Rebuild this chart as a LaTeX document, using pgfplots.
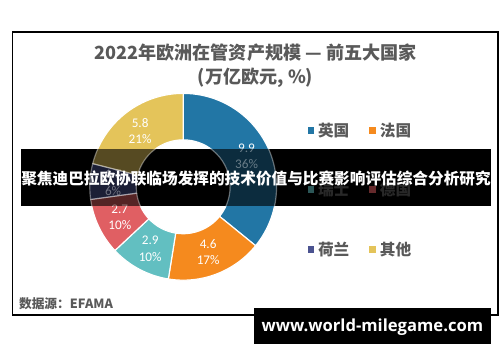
\documentclass[border=0pt]{standalone}
\usepackage{fontspec}
\usepackage{pgfplots}
\usepackage{pgfplotstable}
\pgfplotsset{compat=1.18}
\setmainfont{Carlito}
\newfontfamily\cjk{Noto Sans CJK SC}
\newfontfamily\urlfont{Open Sans}
\definecolor{cUK}{HTML}{2276A5}
\definecolor{cFR}{HTML}{F58A1E}
\definecolor{cCH}{HTML}{62BFC1}
\definecolor{cDE}{HTML}{E05F63}
\definecolor{cNL}{HTML}{4B5390}
\definecolor{cOT}{HTML}{E4C45A}
\definecolor{tgray}{HTML}{595959}

\pgfplotstableread{
country value pct colour
英国 9.9 36 cUK
法国 4.6 17 cFR
瑞士 2.9 10 cCH
德国 2.7 10 cDE
荷兰 1.7 6 cNL
其他 5.8 21 cOT
}\assets

% donut geometry (pt)
\def\cx{176}\def\cy{171}
\def\Ro{95.5}\def\Ri{48}\def\Rm{71.75}

\newcommand\slice[4]{%
  \fill[fill=#3, draw=white, line width=1.2pt, fill opacity=#4, draw opacity=#4]
    (axis cs:\cx,\cy) ++(#1:\Ro pt) arc[start angle=#1, end angle=#2, radius=\Ro pt]
    -- ++(#2:\Ri pt-\Ro pt) arc[start angle=#2, end angle=#1, radius=\Ri pt] -- cycle;}
\newcommand\lbl[4]{%
  \path (axis cs:\cx,\cy) ++(#1:\Rm pt) node[text=white, text opacity=#4, align=center,
    font=\fontsize{13.5}{16.5}\selectfont, inner sep=0pt] {#2\\#3\%};}
\newcommand\legitem[5]{%
  \fill[fill=#4, fill opacity=#5] (axis cs:#1-3.5,#2-3.5) rectangle (axis cs:#1+3.5,#2+3.5);
  \node[anchor=west, text=tgray, text opacity=#5, inner sep=0pt, font=\cjk\bfseries\fontsize{16}{18}\selectfont]
    at (axis cs:#1+7,#2) {#3};}

\begin{document}
\pgfplotstablegetrowsof{\assets}\pgfmathtruncatemacro\nrows{\pgfplotsretval-1}
\gdef\sumv{0}
\pgfplotsforeachungrouped \i in {0,...,\nrows}{%
  \pgfplotstablegetelem{\i}{value}\of\assets
  \pgfmathsetmacro\tmpv{\sumv+\pgfplotsretval}\xdef\sumv{\tmpv}}
\gdef\ang{90}
\pgfplotsforeachungrouped \i in {0,...,\nrows}{%
  \pgfplotstablegetelem{\i}{value}\of\assets \let\v\pgfplotsretval
  \pgfmathsetmacro\e{\ang-\v/\sumv*360}%
  \pgfmathsetmacro\m{(\ang+\e)/2}%
  \expandafter\xdef\csname sa\i\endcsname{\ang}%
  \expandafter\xdef\csname ea\i\endcsname{\e}%
  \expandafter\xdef\csname ma\i\endcsname{\m}%
  \expandafter\xdef\csname va\i\endcsname{\v}%
  \pgfplotstablegetelem{\i}{pct}\of\assets
  \expandafter\xdef\csname pc\i\endcsname{\pgfplotsretval}%
  \pgfplotstablegetelem{\i}{colour}\of\assets
  \expandafter\xdef\csname co\i\endcsname{\pgfplotsretval}%
  \pgfplotstablegetelem{\i}{country}\of\assets
  \expandafter\xdef\csname nm\i\endcsname{\pgfplotsretval}%
  \pgfmathtruncatemacro\col{mod(\i,2)}%
  \pgfmathtruncatemacro\row{div(\i,2)}%
  \pgfmathsetmacro\lx{306.7+63.3*\col}%
  \pgfmathsetmacro\ly{228.7-60.8*\row}%
  \expandafter\xdef\csname lx\i\endcsname{\lx}%
  \expandafter\xdef\csname ly\i\endcsname{\ly}%
  \xdef\ang{\e}}
\begin{tikzpicture}
\useasboundingbox (0,0) rectangle (500pt,362pt);
\begin{axis}[x=1pt, y=1pt, disabledatascaling, xmin=0, xmax=500, ymin=0, ymax=362,
  hide axis, clip=false, at={(0,0)}, anchor=south west]
% frame
\draw[black, line width=2pt] (axis cs:1.5,329) rectangle (axis cs:498,40);
% title
\node[text=tgray, font=\cjk\bfseries\fontsize{18.5}{22}\selectfont, inner sep=0pt] at (axis cs:250,308) {2022年欧洲在管资产规模 — 前五大国家};
\node[text=tgray, font=\cjk\bfseries\fontsize{18.5}{22}\selectfont, inner sep=0pt] at (axis cs:250,282) {(万亿欧元, \%)};
% slices, labels, legend
\pgfplotsinvokeforeach{0,...,5}{%
  \edef\tmp{\noexpand\slice{\csname sa#1\endcsname}{\csname ea#1\endcsname}{\csname co#1\endcsname}{1}}\tmp
  \edef\tmp{\noexpand\lbl{\csname ma#1\endcsname}{\csname va#1\endcsname}{\csname pc#1\endcsname}{1}}\tmp
  \edef\tmp{\noexpand\legitem{\csname lx#1\endcsname}{\csname ly#1\endcsname}{\csname nm#1\endcsname}{\csname co#1\endcsname}{1}}\tmp
}
% source
\node[anchor=west, text=tgray, font=\cjk\bfseries\fontsize{13}{15}\selectfont, inner sep=0pt] at (axis cs:8,51) {数据源：EFAMA};
% banner
\fill[black] (axis cs:10,210) rectangle (axis cs:491,151);
\begin{scope}
\clip (axis cs:10,210) rectangle (axis cs:491,151);
\pgfplotsinvokeforeach{0,...,5}{%
  \edef\tmp{\noexpand\slice{\csname sa#1\endcsname}{\csname ea#1\endcsname}{\csname co#1\endcsname}{0.38}}\tmp
  \edef\tmp{\noexpand\lbl{\csname ma#1\endcsname}{\csname va#1\endcsname}{\csname pc#1\endcsname}{0.38}}\tmp
  \edef\tmp{\noexpand\legitem{\csname lx#1\endcsname}{\csname ly#1\endcsname}{\csname nm#1\endcsname}{\csname co#1\endcsname}{0.45}}\tmp
}
\end{scope}
\node[text=white, font=\cjk\bfseries\fontsize{16}{18}\selectfont, inner sep=0pt] at (axis cs:250.5,179) {聚焦迪巴拉欧协联临场发挥的技术价值与比赛影响评估综合分析研究};
% url box
\fill[black] (axis cs:248,47) rectangle (axis cs:491,10);
\node[text=white, font=\urlfont\bfseries\fontsize{17}{19}\selectfont, inner sep=0pt] at (axis cs:369.5,27.5) {www.world-milegame.com};
\end{axis}
\end{tikzpicture}
\end{document}
